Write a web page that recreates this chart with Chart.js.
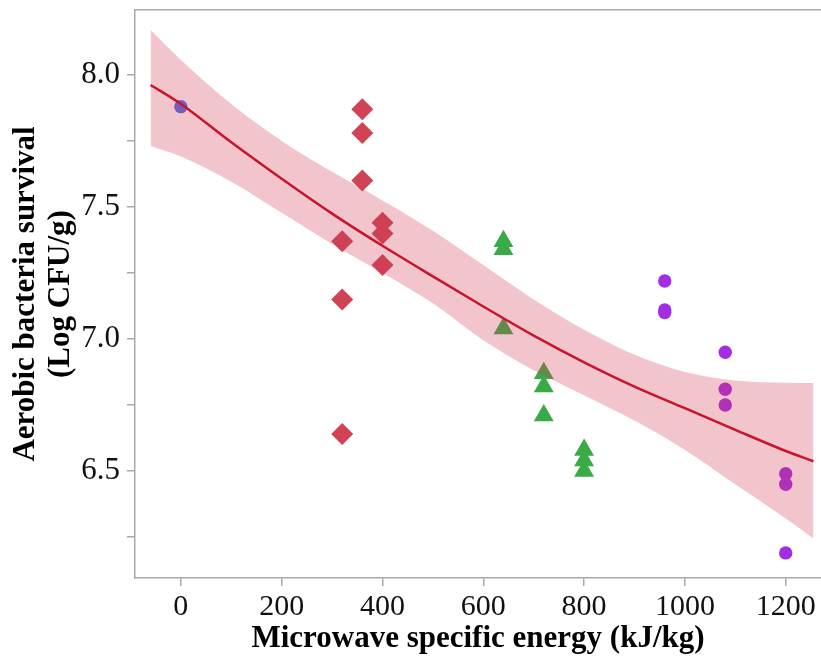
<!DOCTYPE html>
<html>
<head>
<meta charset="utf-8">
<script src="https://cdn.jsdelivr.net/npm/chart.js@4"></script>
<style>
  body { margin: 0; background: #fff; }
  #wrap { width: 821px; height: 662px; }
</style>
</head>
<body>
<div id="wrap"><canvas id="chart" width="821" height="662"></canvas></div>
<script>
// control sample
const controlX = [0];
const controlY = [7.88];
// 320-400 kJ/kg
const diamondX = [320, 320, 320, 360, 360, 360, 400, 400, 400];
const diamondY = [7.37, 7.15, 6.64, 7.87, 7.78, 7.60, 7.44, 7.40, 7.28];
// 640-800 kJ/kg
const triangleX = [640, 640, 640, 720, 720, 720, 800, 800, 800];
const triangleY = [7.37, 7.34, 7.04, 6.87, 6.82, 6.71, 6.58, 6.54, 6.50];
// 960-1200 kJ/kg
const circleX = [960, 960, 960, 1080, 1080, 1080, 1200, 1200, 1200];
const circleY = [7.22, 7.11, 7.10, 6.95, 6.81, 6.75, 6.49, 6.45, 6.19];

// fitted curve and confidence band
const fitX = [-60, 0, 100, 200, 300, 400, 500, 600, 700, 800, 900, 1000, 1100, 1200, 1255];
const fitY = [7.962, 7.89, 7.745, 7.607, 7.475, 7.353, 7.237, 7.123, 7.013, 6.912, 6.82, 6.738, 6.656, 6.576, 6.537];
const upperY = [8.17, 8.057, 7.89, 7.75, 7.633, 7.525, 7.41, 7.28, 7.15, 7.035, 6.94, 6.875, 6.843, 6.834, 6.833];
const lowerY = [7.731, 7.691, 7.596, 7.478, 7.36, 7.25, 7.135, 6.995, 6.882, 6.787, 6.691, 6.58, 6.45, 6.32, 6.245];

const xTicks = [0, 200, 400, 600, 800, 1000, 1200];
const yTicks = [6.25, 6.5, 6.75, 7.0, 7.25, 7.5, 7.75, 8.0];

const pts = (xs, ys) => xs.map((x, i) => ({ x, y: ys[i] }));

const axisGrey = '#a8a8a8';
const serif = "'Liberation Serif', 'Times New Roman', serif";

new Chart(document.getElementById('chart'), {
  type: 'scatter',
  data: {
    datasets: [
      {
        type: 'line', data: pts(fitX, fitY),
        borderColor: '#c8142c', borderWidth: 2.5,
        pointRadius: 0, cubicInterpolationMode: 'monotone', fill: false
      },
      {
        type: 'line', data: pts(fitX, upperY),
        borderWidth: 0, pointRadius: 0, cubicInterpolationMode: 'monotone',
        backgroundColor: 'rgba(211,58,82,0.3)', fill: '+1'
      },
      {
        type: 'line', data: pts(fitX, lowerY),
        borderWidth: 0, pointRadius: 0, cubicInterpolationMode: 'monotone', fill: false
      },
      {
        data: pts(controlX, controlY),
        pointStyle: 'circle', pointRadius: 6.7, borderWidth: 0,
        backgroundColor: '#4a6af0'
      },
      {
        data: pts(diamondX, diamondY),
        pointStyle: 'rectRot', pointRadius: 11, borderWidth: 0,
        backgroundColor: '#cf4355'
      },
      {
        data: pts(triangleX, triangleY),
        pointStyle: 'triangle', pointRadius: 11.5, borderWidth: 0,
        backgroundColor: '#39aa46'
      },
      {
        data: pts(circleX, circleY),
        pointStyle: 'circle', pointRadius: 6.7, borderWidth: 0,
        backgroundColor: '#a32de1'
      }
    ]
  },
  options: {
    responsive: false,
    animation: false,
    layout: { padding: 0, autoPadding: false },
    plugins: { legend: { display: false }, tooltip: { enabled: false } },
    scales: {
      x: {
        type: 'linear', position: 'bottom', min: -91, max: 1270,
        afterBuildTicks: s => { s.ticks = xTicks.map(v => ({ value: v })); },
        afterFit: s => { s.height = 84; s.paddingLeft = 0; s.paddingRight = 0; },
        grid: { drawOnChartArea: false, color: axisGrey, tickLength: 8, lineWidth: 1.5 },
        border: { color: axisGrey, width: 1.5 },
        ticks: {
          color: '#111', padding: 3, font: { family: serif, size: 30 }, maxRotation: 0,
          callback: v => String(v)
        },
        title: {
          display: true, text: 'Microwave specific energy (kJ/kg)', color: '#000',
          font: { family: serif, size: 31, weight: 'bold' }, padding: { top: 0, bottom: 4 }
        }
      },
      x2: {
        type: 'linear', position: 'top', min: -91, max: 1270,
        afterFit: s => { s.height = 10; },
        grid: { drawOnChartArea: false, drawTicks: false },
        border: { color: axisGrey, width: 1.5 },
        ticks: { display: false }
      },
      y: {
        type: 'linear', position: 'left', min: 6.095, max: 8.246,
        afterBuildTicks: s => { s.ticks = yTicks.map(v => ({ value: v })); },
        afterFit: s => { s.width = 135; s.paddingTop = 0; s.paddingBottom = 0; },
        grid: { drawOnChartArea: false, color: axisGrey, tickLength: 8, lineWidth: 1.5 },
        border: { color: axisGrey, width: 1.5 },
        ticks: {
          color: '#111', padding: 7, font: { family: serif, size: 31 },
          callback: v => (Math.abs(v * 2 - Math.round(v * 2)) < 1e-6 ? v.toFixed(1) : '')
        },
        title: {
          display: true, text: ['Aerobic bacteria survival', '(Log CFU/g)'], color: '#000',
          font: { family: serif, size: 31, weight: 'bold', lineHeight: 1.15 },
          padding: { top: 8, bottom: 0 }
        }
      }
    }
  }
});
</script>
</body>
</html>
